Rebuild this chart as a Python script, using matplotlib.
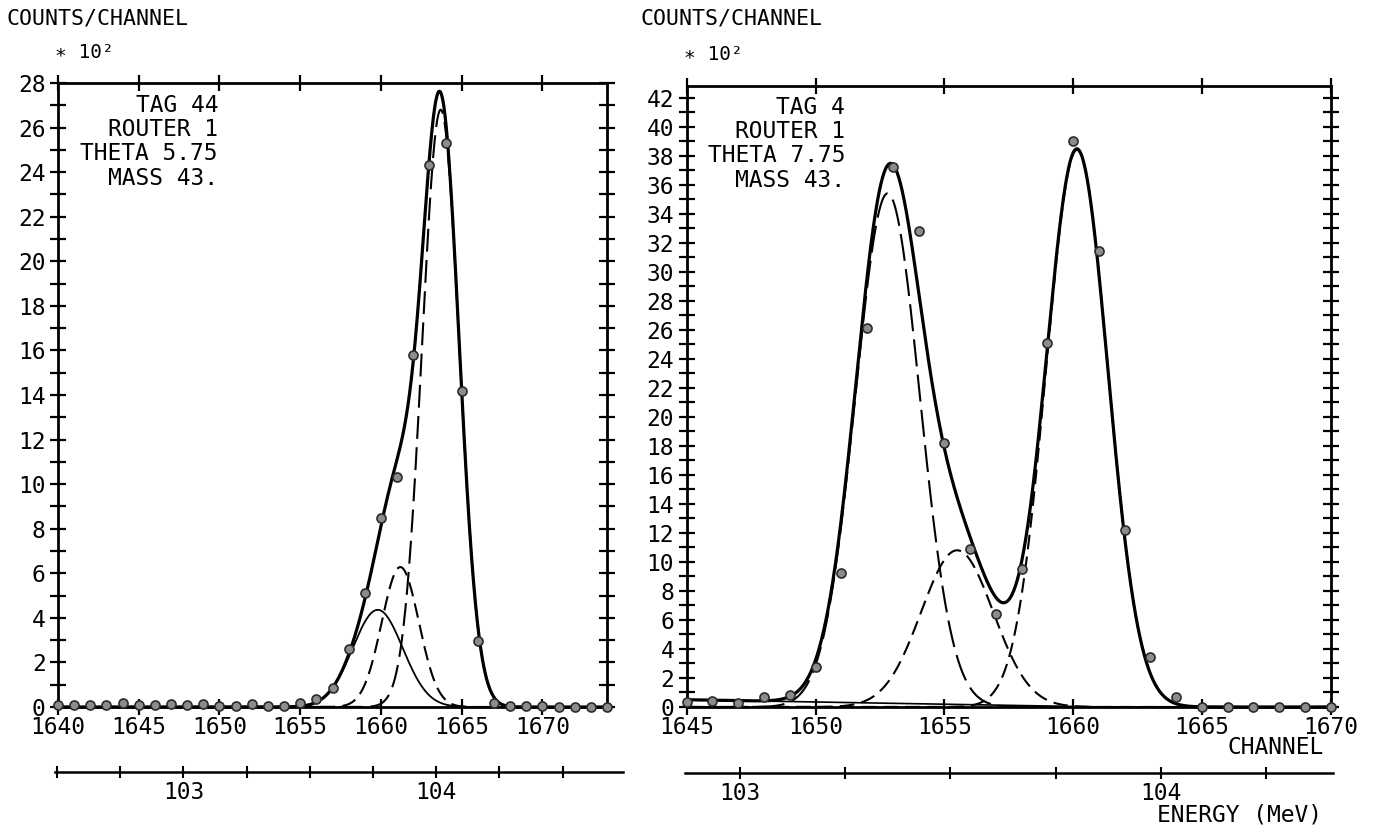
import numpy as np
import matplotlib
matplotlib.use("Agg")
import matplotlib.pyplot as plt
from matplotlib.ticker import MultipleLocator, FixedLocator, NullFormatter

plt.rcParams["font.family"] = ["DejaVu Sans Mono", "DejaVu Sans"]

W, H = 1374, 827

# ---------------- TAG 44 spectrum (counts / 100) ----------------
left_channels = list(range(1640, 1675))
left_counts = [0.10, 0.08, 0.10, 0.10, 0.18, 0.10, 0.08, 0.15, 0.08, 0.12,
               0.05, 0.05, 0.15, 0.05, 0.05, 0.18, 0.35, 0.87, 2.6, 5.1,
               8.5, 10.3, 15.8, 24.3, 25.3, 14.2, 2.94, 0.17, 0.05, 0.03,
               0.03, 0.0, 0.0, 0.02, 0.0]
# fitted peak components: amplitude, centre channel, width (channels)
left_amp = [4.36, 6.28, 26.8]
left_center = [1659.8, 1661.2, 1663.7]
left_sigma = [1.55, 1.15, 1.15]
left_info = ["TAG 44", "ROUTER 1", "THETA 5.75", "MASS 43."]
left_xticks = [1640, 1645, 1650, 1655, 1660, 1665, 1670]
# energy calibration: channel at 104 MeV, MeV per channel
left_ch104 = 1663.42
left_mev_per_ch = 0.0639

# ---------------- TAG 4 spectrum (counts / 100) ----------------
right_channels = list(range(1645, 1671))
right_counts = [0.37, 0.41, 0.30, 0.71, 0.83, 2.78, 9.26, 26.1, 37.2, 32.8,
                18.2, 10.9, 6.4, 9.5, 25.1, 39.0, 31.4, 12.2, 3.47, 0.71,
                0.0, 0.0, 0.0, 0.0, 0.0, 0.0]
right_amp = [35.4, 10.8, 38.4]
right_center = [1652.8, 1655.5, 1660.15]
right_sigma = [1.25, 1.4, 1.2]
right_bg_channels = [1645, 1661]
right_bg_counts = [0.5, 0.0]
right_info = ["TAG 4", "ROUTER 1", "THETA 7.75", "MASS 43."]
right_xticks = [1645, 1650, 1655, 1660, 1665, 1670]
right_ch104 = 1663.4
right_mev_per_ch = 0.06126

energy_ticks = [103, 104]


def gauss(x, a, mu, s):
    return a * np.exp(-0.5 * ((x - mu) / s) ** 2)


def px_axes(fig, x0, y0, x1, y1):
    return fig.add_axes([x0 / W, 1 - y1 / H, (x1 - x0) / W, (y1 - y0) / H])


def px_text(fig, x, y, s, **kw):
    return fig.text(x / W, 1 - y / H, s, **kw)


def style_spectrum(ax, xlim, ylim, xticks):
    ax.set_xlim(*xlim)
    ax.set_ylim(*ylim)
    for sp in ax.spines.values():
        sp.set_linewidth(2.0)
    ax.xaxis.set_major_locator(FixedLocator(xticks))
    ax.yaxis.set_major_locator(MultipleLocator(2))
    ax.yaxis.set_minor_locator(MultipleLocator(1))
    ax.tick_params(axis="both", which="both", direction="inout",
                   top=True, right=True, width=1.6, colors="black")
    ax.tick_params(axis="x", which="major", length=11, pad=1, labelsize=16.5)
    ax.tick_params(axis="y", which="major", length=12, pad=3, labelsize=16.5)
    ax.tick_params(axis="y", which="minor", length=11)
    ax.set_facecolor("white")


def energy_axis(fig, ax, ch_lo, ch_hi, y_px, ch104, mev_per_ch):
    pos = ax.get_position()
    xmin, xmax = ax.get_xlim()
    f0 = pos.x0 + (ch_lo - xmin) / (xmax - xmin) * pos.width
    f1 = pos.x0 + (ch_hi - xmin) / (xmax - xmin) * pos.width
    eax = fig.add_axes([f0, 1 - y_px / H, f1 - f0, 1e-4])
    eax.set_xlim(104 + (ch_lo - ch104) * mev_per_ch,
                 104 + (ch_hi - ch104) * mev_per_ch)
    for name, sp in eax.spines.items():
        sp.set_visible(name == "bottom")
    eax.spines["bottom"].set_linewidth(1.8)
    eax.set_yticks([])
    eax.xaxis.set_major_locator(FixedLocator(energy_ticks))
    eax.xaxis.set_minor_locator(MultipleLocator(0.25))
    eax.xaxis.set_minor_formatter(NullFormatter())
    eax.tick_params(axis="x", which="both", direction="inout", length=9,
                    width=1.5, pad=2, labelsize=16.5)
    eax.patch.set_visible(False)
    return eax


def draw_points(ax, ch, counts):
    ax.plot(ch, counts, linestyle="none", marker="o", markersize=6.5,
            markerfacecolor="#8c8c8c", markeredgecolor="#2a2a2a",
            markeredgewidth=1.2, clip_on=False, zorder=5)


fig = plt.figure(figsize=(W / 100, H / 100), dpi=100)
fig.patch.set_facecolor("white")

# ---------------- left panel ----------------
axl = px_axes(fig, 58, 83, 607, 707)
style_spectrum(axl, (1640, 1674), (0, 28), left_xticks)
xl = np.linspace(1640, 1674, 1200)
comps = [gauss(xl, a, m, s) for a, m, s in zip(left_amp, left_center, left_sigma)]
axl.plot(xl, comps[0], color="black", lw=1.3, zorder=3)
axl.plot(xl, comps[1], color="black", lw=1.5, dashes=(7, 3.5), zorder=3)
axl.plot(xl, comps[2], color="black", lw=1.5, dashes=(11, 4), zorder=3)
axl.plot(xl, np.sum(comps, axis=0), color="black", lw=2.3, zorder=4,
         clip_on=False)
draw_points(axl, left_channels, left_counts)
for i, line in enumerate(left_info):
    px_text(fig, 218, 105 + 24.5 * i, line, fontsize=16.5,
            ha="right", va="center")
energy_axis(fig, axl, 1639.8, 1675.0, 772, left_ch104, left_mev_per_ch)

px_text(fig, 7, 18, "COUNTS/CHANNEL", fontsize=15.5, ha="left", va="center")
px_text(fig, 55, 52, "\u2217 10\u00b2", fontsize=14, ha="left", va="center")

# ---------------- right panel ----------------
axr = px_axes(fig, 686.7, 86, 1330.7, 707)
style_spectrum(axr, (1645, 1670), (0, 42.8), right_xticks)
xr = np.linspace(1645, 1670, 1200)
bg = np.interp(xr, right_bg_channels, right_bg_counts)
rcomps = [gauss(xr, a, m, s) for a, m, s in zip(right_amp, right_center, right_sigma)]
axr.plot(xr, bg, color="black", lw=1.2, zorder=3)
axr.plot(xr, rcomps[0], color="black", lw=1.5, dashes=(13, 4), zorder=3)
axr.plot(xr, rcomps[1], color="black", lw=1.5, dashes=(7, 3.5), zorder=3)
axr.plot(xr, rcomps[2], color="black", lw=1.5, dashes=(7, 3.5), zorder=3)
axr.plot(xr, bg + np.sum(rcomps, axis=0), color="black", lw=2.3, zorder=4,
         clip_on=False)
draw_points(axr, right_channels, right_counts)
for i, line in enumerate(right_info):
    px_text(fig, 845, 107 + 24.5 * i, line, fontsize=16.5,
            ha="right", va="center")
energy_axis(fig, axr, 1644.93, 1670.1, 773, right_ch104, right_mev_per_ch)

px_text(fig, 640, 18, "COUNTS/CHANNEL", fontsize=15.5, ha="left", va="center")
px_text(fig, 684, 55, "\u2217 10\u00b2", fontsize=14, ha="left", va="center")
px_text(fig, 1324, 748, "CHANNEL", fontsize=16.5, ha="right", va="center")
px_text(fig, 1322, 815, "ENERGY (MeV)", fontsize=16.5, ha="right", va="center")

fig.savefig("out.png", dpi=100, facecolor="white")
